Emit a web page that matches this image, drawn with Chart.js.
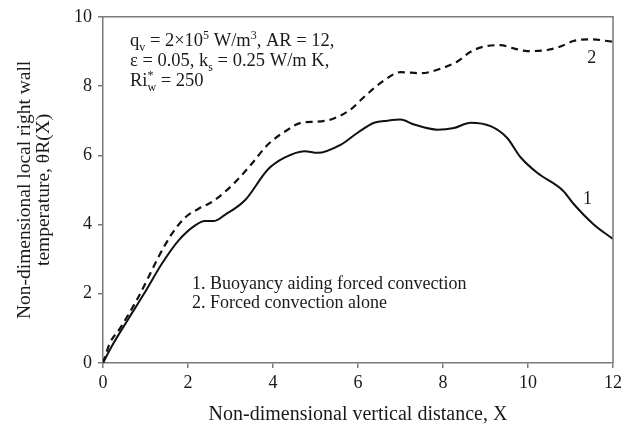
<!DOCTYPE html>
<html>
<head>
<meta charset="utf-8">
<script src="https://cdn.jsdelivr.net/npm/chart.js@4.4.1/dist/chart.umd.min.js"></script>
<style>
  body { margin: 0; background: #fff; }
</style>
</head>
<body>
<canvas id="grafico" width="633" height="432"></canvas>
<script>
// curve 1: buoyancy aiding forced convection
const xAiding = [0, 0.2, 0.6, 0.99, 1.38, 1.77, 2.16, 2.4, 2.6, 2.87, 3.34, 3.88, 4.27, 4.74, 5.05, 5.6, 5.99, 6.38, 6.7, 7.0, 7.32, 7.87, 8.26, 8.65, 9.12, 9.51, 9.82, 10.21, 10.83, 11.07, 11.54, 12];
const yAiding = [0, 0.47, 1.28, 2.05, 2.86, 3.53, 3.97, 4.1, 4.1, 4.28, 4.7, 5.59, 5.93, 6.12, 6.07, 6.31, 6.65, 6.94, 7.0, 7.03, 6.89, 6.74, 6.79, 6.94, 6.84, 6.5, 5.95, 5.5, 4.97, 4.6, 4.01, 3.58];
// curve 2: forced convection alone
const xForced = [0, 0.16, 0.4, 0.83, 1.07, 1.3, 1.62, 1.93, 2.24, 2.6, 3.1, 3.49, 3.88, 4.35, 4.66, 5.05, 5.4, 5.8, 6.2, 6.6, 7.0, 7.48, 7.94, 8.34, 8.65, 8.96, 9.35, 9.66, 9.98, 10.45, 10.76, 11.07, 11.46, 12];
const yForced = [0, 0.57, 1.0, 1.9, 2.48, 3.05, 3.73, 4.2, 4.45, 4.68, 5.21, 5.74, 6.31, 6.74, 6.94, 6.97, 7.05, 7.3, 7.75, 8.15, 8.4, 8.37, 8.5, 8.71, 8.99, 9.14, 9.18, 9.09, 9.01, 9.04, 9.14, 9.3, 9.35, 9.28];

const xTicks = [0, 2, 4, 6, 8, 10, 12];
const yTicks = [0, 2, 4, 6, 8, 10];

const serif = '"Liberation Serif", "Times New Roman", serif';

function punti(xs, ys) {
    return xs.map((x, i) => ({ x: x, y: ys[i] }));
}

// draw text made of normal / sub / sup pieces
function testoRicco(ctx, x, y, parti, size) {
    parti.forEach(p => {
        const tipo = p[1];
        if (tipo === 'n') {
            ctx.font = size + 'px ' + serif;
            ctx.fillText(p[0], x, y);
            x += ctx.measureText(p[0]).width;
        } else if (tipo === 'sub' || tipo === 'sup') {
            const s = Math.round(size * 0.65);
            ctx.font = s + 'px ' + serif;
            ctx.fillText(p[0], x, y + (tipo === 'sub' ? size * 0.25 : -size * 0.38));
            x += ctx.measureText(p[0]).width;
        } else if (tipo === 'stack') {
            const s = Math.round(size * 0.65);
            ctx.font = s + 'px ' + serif;
            ctx.fillText(p[0], x, y - size * 0.38);
            ctx.fillText(p[2], x, y + size * 0.25);
            x += Math.max(ctx.measureText(p[0]).width, ctx.measureText(p[2]).width);
        }
    });
}

const annotazioni = {
    id: 'annotazioni',
    afterDatasetsDraw(chart) {
        const ctx = chart.ctx;
        const a = chart.chartArea;
        const sx = chart.scales.x, sy = chart.scales.y;
        ctx.save();
        // top and right frame
        ctx.strokeStyle = '#7a7a7a';
        ctx.lineWidth = 1.5;
        ctx.beginPath();
        ctx.moveTo(a.left, a.top);
        ctx.lineTo(a.right, a.top);
        ctx.lineTo(a.right, a.bottom);
        ctx.stroke();

        ctx.fillStyle = '#1a1a1a';
        ctx.textBaseline = 'alphabetic';
        ctx.textAlign = 'left';
        const fs = 18.5;
        testoRicco(ctx, 130, 46, [['q', 'n'], ['v', 'sub'], [' = 2×10', 'n'], ['5', 'sup'], [' W/m', 'n'], ['3', 'sup'], [', AR = 12,', 'n']], fs);
        testoRicco(ctx, 130, 66, [['ε = 0.05, k', 'n'], ['s', 'sub'], [' = 0.25 W/m K,', 'n']], fs);
        testoRicco(ctx, 130, 86, [['Ri', 'n'], ['*', 'stack', 'w'], [' = 250', 'n']], fs);

        ctx.font = '18px ' + serif;
        ctx.fillText('1. Buoyancy aiding forced convection', 192, 289);
        ctx.fillText('2. Forced convection alone', 192, 308);

        ctx.textAlign = 'center';
        ctx.fillText('1', sx.getPixelForValue(11.4), sy.getPixelForValue(4.6));
        ctx.fillText('2', sx.getPixelForValue(11.5), sy.getPixelForValue(8.67));
        ctx.restore();
    }
};

const ctx = document.getElementById('grafico').getContext('2d');

new Chart(ctx, {
    type: 'line',
    data: {
        datasets: [{
            label: '1',
            data: punti(xAiding, yAiding),
            borderColor: '#111',
            borderWidth: 2,
            pointRadius: 0,
            cubicInterpolationMode: 'monotone',
            fill: false
        }, {
            label: '2',
            data: punti(xForced, yForced),
            borderColor: '#111',
            borderWidth: 2.2,
            borderDash: [7, 5],
            pointRadius: 0,
            cubicInterpolationMode: 'monotone',
            fill: false
        }]
    },
    options: {
        responsive: false,
        animation: false,
        layout: { padding: { top: 14, right: 20, left: 0, bottom: 0 } },
        plugins: {
            legend: { display: false },
            tooltip: { enabled: false }
        },
        scales: {
            x: {
                type: 'linear',
                min: 0,
                max: 12,
                afterBuildTicks(scale) { scale.ticks = xTicks.map(v => ({ value: v })); },
                afterFit(scale) { scale.height = 69; },
                border: { color: '#7a7a7a', width: 1.5 },
                grid: { drawOnChartArea: false, tickLength: 5, color: '#7a7a7a', lineWidth: 1.5 },
                ticks: { color: '#1a1a1a', padding: 4, font: { family: serif, size: 18 } },
                title: {
                    display: true,
                    text: 'Non-dimensional vertical distance, X',
                    color: '#1a1a1a',
                    font: { family: serif, size: 20, lineHeight: 1.0 },
                    padding: { top: 0, bottom: 7 }
                }
            },
            y: {
                type: 'linear',
                min: 0,
                max: 10,
                afterBuildTicks(scale) { scale.ticks = yTicks.map(v => ({ value: v })); },
                afterFit(scale) { scale.width = 103; },
                border: { color: '#7a7a7a', width: 1.5 },
                grid: { drawOnChartArea: false, tickLength: 5, color: '#7a7a7a', lineWidth: 1.5 },
                ticks: { color: '#1a1a1a', padding: 6, font: { family: serif, size: 18 } },
                title: {
                    display: true,
                    text: ['Non-dimensional local right wall', 'temperature, θR(X)'],
                    color: '#1a1a1a',
                    font: { family: serif, size: 19.5, lineHeight: 0.95 },
                    padding: { top: 16, bottom: 0 }
                }
            }
        }
    },
    plugins: [annotazioni]
});
</script>
</body>
</html>
